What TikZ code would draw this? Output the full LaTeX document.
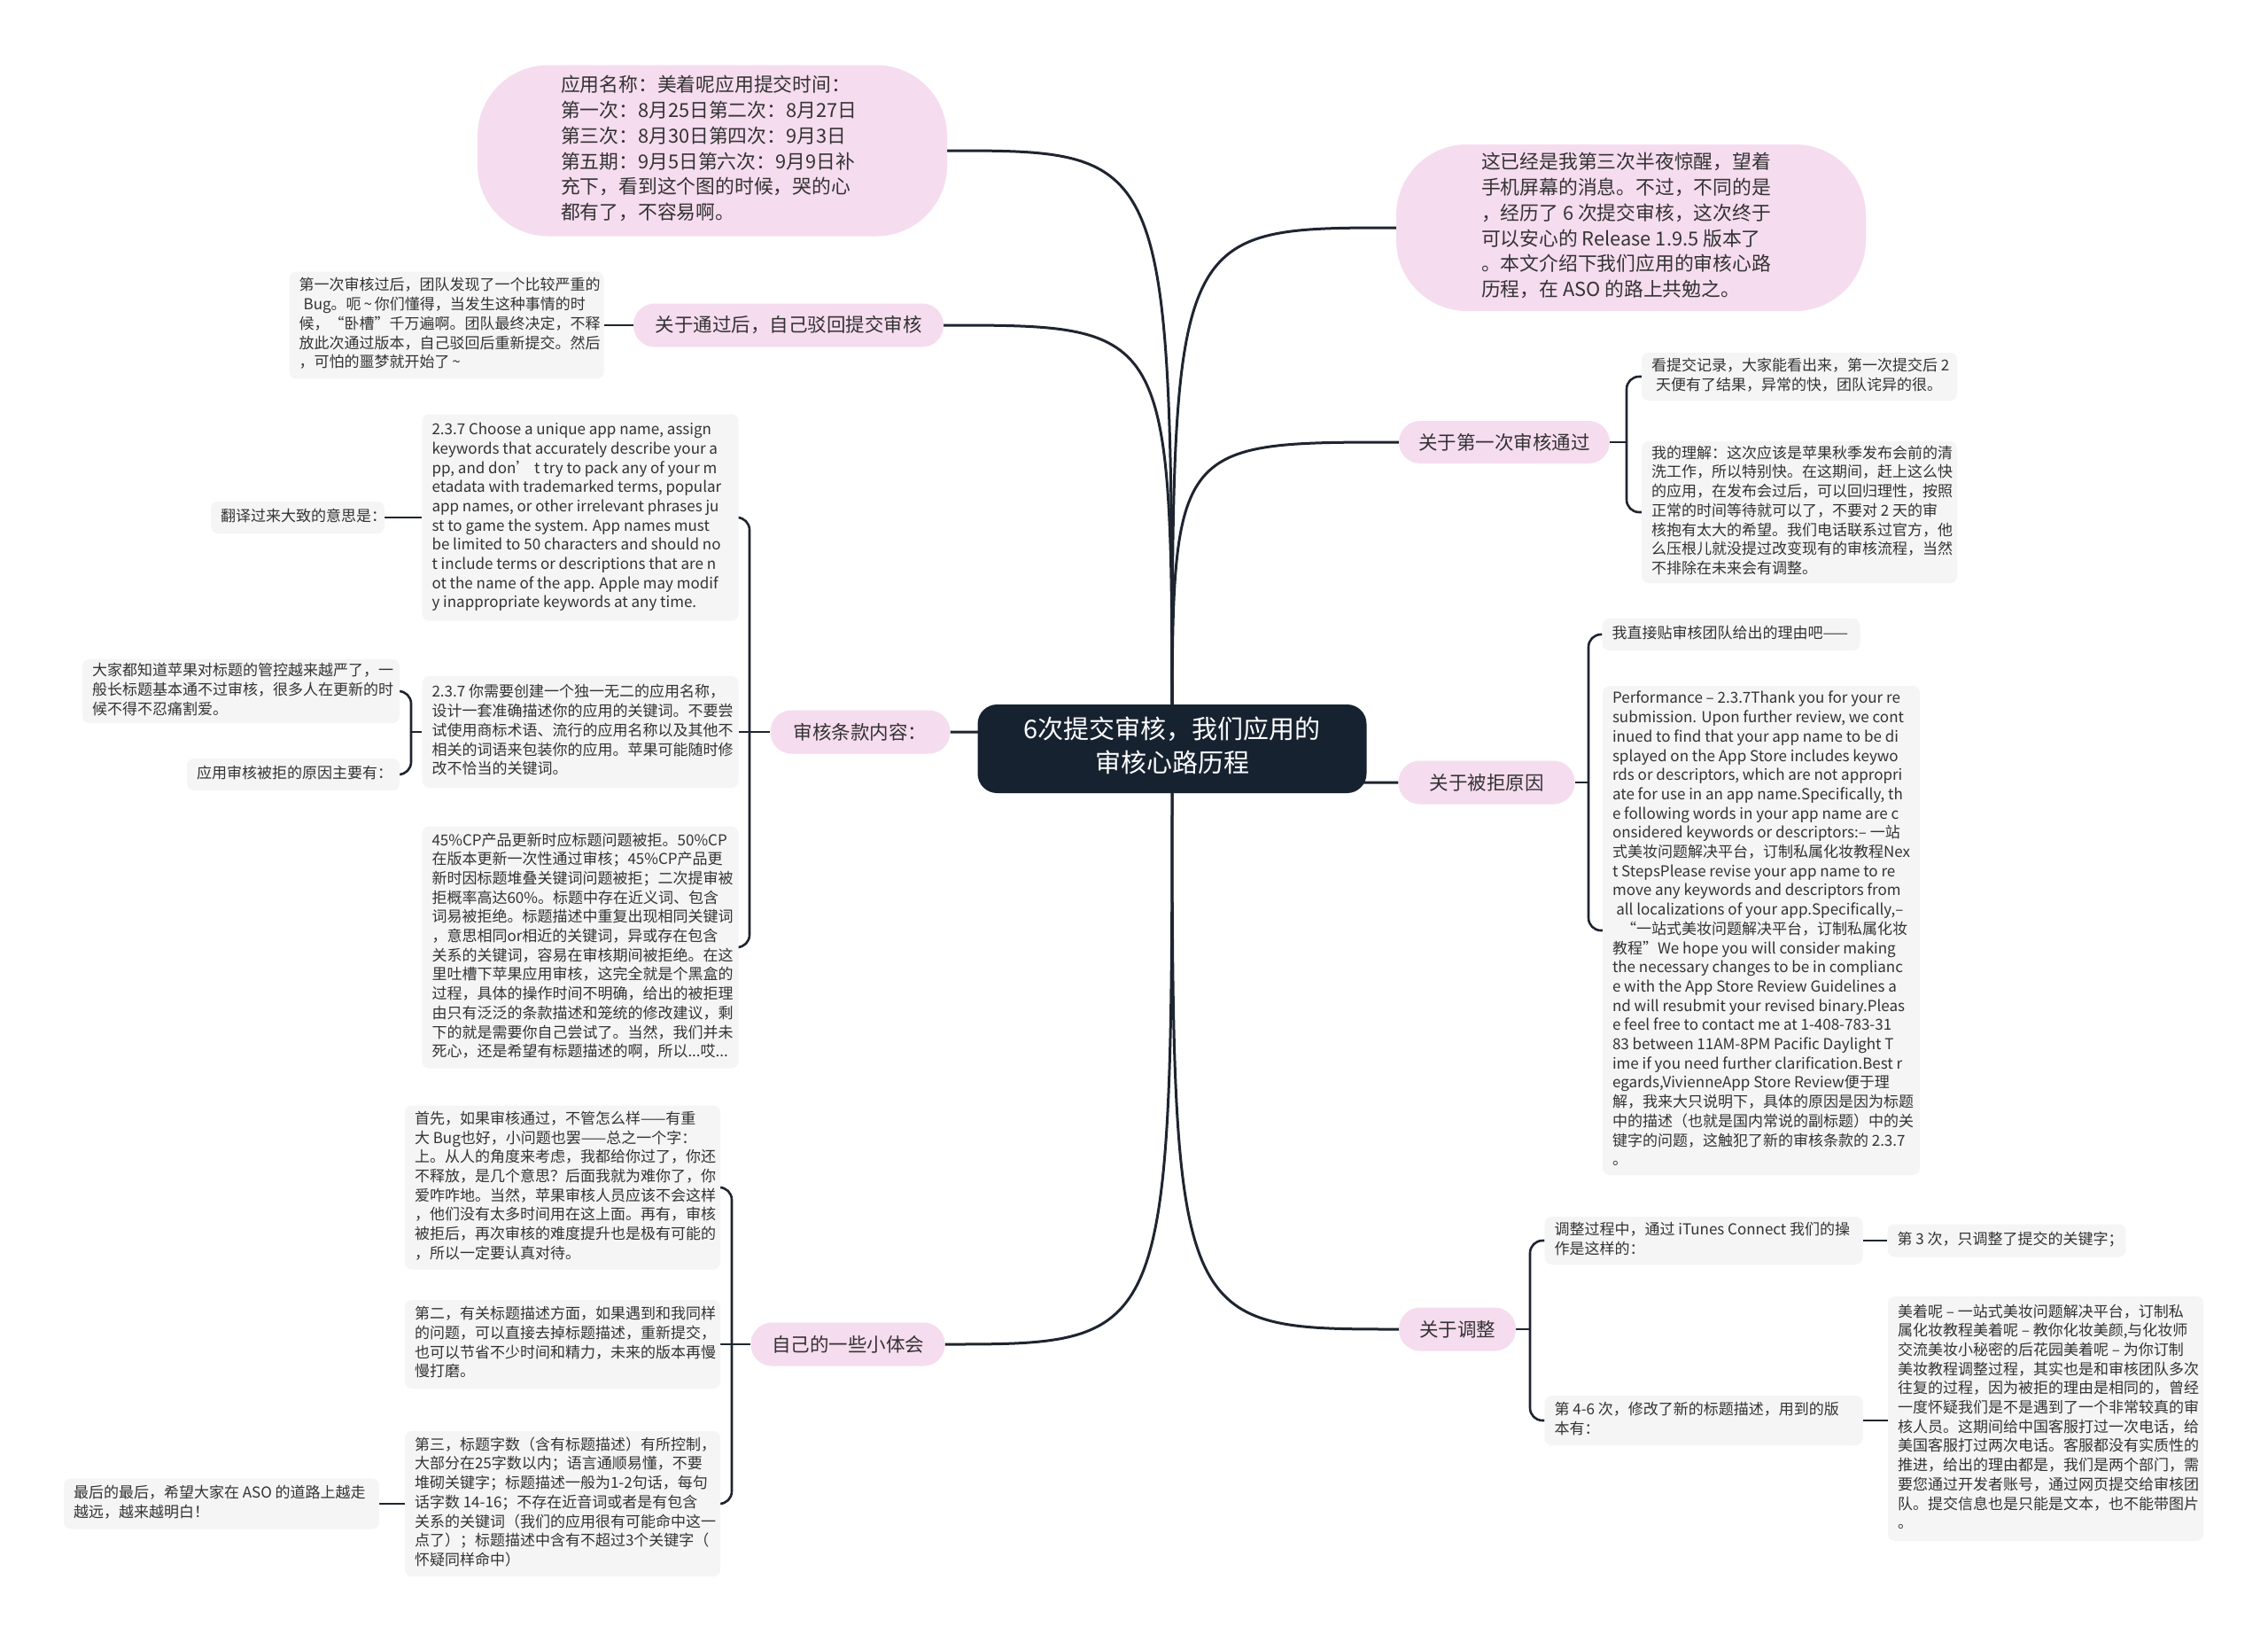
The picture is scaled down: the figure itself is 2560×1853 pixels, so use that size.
\documentclass[tikz,border=0pt]{standalone}
\usepackage{fontspec}
\setmainfont{Noto Sans CJK SC}
\usetikzlibrary{backgrounds}
\definecolor{pinkf}{HTML}{F6DCEF}
\definecolor{grayf}{HTML}{F5F5F5}
\definecolor{rootf}{HTML}{172231}
\definecolor{edgec}{HTML}{1E2530}
\definecolor{txt}{HTML}{333333}
\pgfdeclarelayer{edges}
\pgfsetlayers{background,edges,main}
\newcommand{\linesblock}[2]{\makebox[#1][l]{\begin{tabular}{@{}l@{}}#2\end{tabular}}}
\tikzset{
  gbox/.style={fill=grayf, rounded corners=8pt, inner xsep=11pt, inner ysep=0pt, text=txt, font=\fontsize{17}{21.7}\selectfont},
  pill/.style={fill=pinkf, rounded corners=24pt, inner sep=0pt, text=txt, font=\fontsize{21.5}{26}\selectfont},
  bigpill/.style={fill=pinkf, rounded corners=80pt, inner ysep=0pt, text=txt, font=\fontsize{21.8}{28.7}\selectfont},
  rootbox/.style={fill=rootf, rounded corners=22pt, text=white, font=\fontsize{29}{37.5}\selectfont, inner sep=0pt},
  redge/.style={draw=edgec, line width=3pt},
  cedge/.style={draw=edgec, line width=2.6pt, rounded corners=14pt},
}
\begin{document}
\begin{tikzpicture}[x=1pt, y=-1pt]
\begin{pgfonlayer}{background}
\fill[white] (0,0) rectangle (2560,1853);
\end{pgfonlayer}
\useasboundingbox (0,0) rectangle (2560,1853);

% root
\node[rootbox, minimum width=439pt, minimum height=100pt] (root) at (1323,845)
 {\begin{tabular}{@{}c@{}}6次提交审核，我们应用的\\审核心路历程\end{tabular}};

% top pills
\node[bigpill, minimum width=530pt, minimum height=193pt, inner xsep=94pt] (tl) at (804,170)
 {\linesblock{342pt}{应用名称：美着呢应用提交时间：\\第一次：8月25日第二次：8月27日\\第三次：8月30日第四次：9月3日\\第五期：9月5日第六次：9月9日补\\充下，看到这个图的时候，哭的心\\都有了，不容易啊。}};
\node[bigpill, minimum width=530pt, minimum height=188pt, inner xsep=96pt] (tr) at (1841,257)
 {\linesblock{338pt}{这已经是我第三次半夜惊醒，望着\\手机屏幕的消息。不过，不同的是\\，经历了 6 次提交审核，这次终于\\可以安心的 Release 1.9.5 版本了\\。本文介绍下我们应用的审核心路\\历程，在 ASO 的路上共勉之。}};

% branch 1
\node[pill, minimum width=350pt, minimum height=49pt] (p1) at (890,367) {关于通过后，自己驳回提交审核};
\node[gbox, minimum height=121pt] (p1c) at (504,367)
 {\linesblock{333pt}{第一次审核过后，团队发现了一个比较严重的\\\hspace*{0.3em}Bug。呃\,\textasciitilde\,你们懂得，当发生这种事情的时\\候，“卧槽”千万遍啊。团队最终决定，不释\\放此次通过版本，自己驳回后重新提交。然后\\，可怕的噩梦就开始了\,\textasciitilde}};

% branch 2
\node[pill, minimum width=238pt, minimum height=48pt] (p2) at (1698,499) {关于第一次审核通过};
\node[gbox, minimum height=54pt] (p2a) at (2031,425)
 {\linesblock{334pt}{看提交记录，大家能看出来，第一次提交后 2\\\hspace*{0.3em}天便有了结果，异常的快，团队诧异的很。}};
\node[gbox, minimum height=160pt] (p2b) at (2031,578)
 {\linesblock{334pt}{我的理解：这次应该是苹果秋季发布会前的清\\洗工作，所以特别快。在这期间，赶上这么快\\的应用，在发布会过后，可以回归理性，按照\\正常的时间等待就可以了，不要对 2 天的审\\核抱有太大的希望。我们电话联系过官方，他\\么压根儿就没提过改变现有的审核流程，当然\\不排除在未来会有调整。}};

% branch 3
\node[pill, minimum width=203pt, minimum height=49pt] (p3) at (971,826) {审核条款内容：};
\node[gbox, minimum height=233pt] (p3a) at (655,584)
 {\linesblock{335pt}{2.3.7 Choose a unique app name, assign\\keywords that accurately describe your a\\pp, and don’ t try to pack any of your m\\etadata with trademarked terms, popular\\app names, or other irrelevant phrases ju\\st to game the system. App names must\\be limited to 50 characters and should no\\t include terms or descriptions that are n\\ot the name of the app. Apple may modif\\y inappropriate keywords at any time.}};
\node[gbox, minimum height=36pt] (p3a1) at (336,584)
 {\linesblock{174pt}{翻译过来大致的意思是：}};
\node[gbox, minimum height=126pt] (p3b) at (655,826)
 {\linesblock{335pt}{2.3.7 你需要创建一个独一无二的应用名称，\\设计一套准确描述你的应用的关键词。不要尝\\试使用商标术语、流行的应用名称以及其他不\\相关的词语来包装你的应用。苹果可能随时修\\改不恰当的关键词。}};
\node[gbox, minimum height=72pt] (p3b1) at (272,780)
 {\linesblock{336pt}{大家都知道苹果对标题的管控越来越严了，一\\般长标题基本通不过审核，很多人在更新的时\\候不得不忍痛割爱。}};
\node[gbox, minimum height=36pt] (p3b2) at (331,874)
 {\linesblock{218pt}{应用审核被拒的原因主要有：}};
\node[gbox, minimum height=273pt] (p3c) at (655,1069)
 {\linesblock{335pt}{45\%CP产品更新时应标题问题被拒。50\%CP\\在版本更新一次性通过审核；45\%CP产品更\\新时因标题堆叠关键词问题被拒；二次提审被\\拒概率高达60\%。标题中存在近义词、包含\\词易被拒绝。标题描述中重复出现相同关键词\\，意思相同or相近的关键词，异或存在包含\\关系的关键词，容易在审核期间被拒绝。在这\\里吐槽下苹果应用审核，这完全就是个黑盒的\\过程，具体的操作时间不明确，给出的被拒理\\由只有泛泛的条款描述和笼统的修改建议，剩\\下的就是需要你自己尝试了。当然，我们并未\\死心，还是希望有标题描述的啊，所以...哎...}};

% branch 4
\node[pill, minimum width=199pt, minimum height=49pt] (p4) at (1678,883) {关于被拒原因};
\node[gbox, minimum height=36pt] (p4a) at (1954,716)
 {\linesblock{269pt}{我直接贴审核团队给出的理由吧——}};
\node[gbox, minimum height=552pt] (p4b) at (1988,1050)
 {\linesblock{336pt}{Performance – 2.3.7Thank you for your re\\submission. Upon further review, we cont\\inued to find that your app name to be di\\splayed on the App Store includes keywo\\rds or descriptors, which are not appropri\\ate for use in an app name.Specifically, th\\e following words in your app name are c\\onsidered keywords or descriptors:– 一站\\式美妆问题解决平台，订制私属化妆教程Nex\\t StepsPlease revise your app name to re\\move any keywords and descriptors from\\\hspace*{0.25em}all localizations of your app.Specifically,–\\\hspace*{0.6em}“一站式美妆问题解决平台，订制私属化妆\\教程”We hope you will consider making\\the necessary changes to be in complianc\\e with the App Store Review Guidelines a\\nd will resubmit your revised binary.Pleas\\e feel free to contact me at 1-408-783-31\\83 between 11AM-8PM Pacific Daylight T\\ime if you need further clarification.Best r\\egards,VivienneApp Store Review便于理\\解，我来大只说明下，具体的原因是因为标题\\中的描述（也就是国内常说的副标题）中的关\\键字的问题，这触犯了新的审核条款的 2.3.7\\。}};

% branch 5
\node[pill, minimum width=132pt, minimum height=49pt] (p5) at (1645,1500) {关于调整};
\node[gbox, minimum height=54pt] (p5a) at (1923,1400)
 {\linesblock{337pt}{调整过程中，通过 iTunes Connect 我们的操\\作是这样的：}};
\node[gbox, minimum height=37pt] (p5a1) at (2265,1400)
 {\linesblock{247pt}{第 3 次，只调整了提交的关键字；}};
\node[gbox, minimum height=56pt] (p5b) at (1923,1603)
 {\linesblock{337pt}{第 4-6 次，修改了新的标题描述，用到的版\\本有：}};
\node[gbox, minimum height=276pt] (p5b1) at (2309,1601)
 {\linesblock{334pt}{美着呢 – 一站式美妆问题解决平台，订制私\\属化妆教程美着呢 – 教你化妆美颜,与化妆师\\交流美妆小秘密的后花园美着呢 – 为你订制\\美妆教程调整过程，其实也是和审核团队多次\\往复的过程，因为被拒的理由是相同的，曾经\\一度怀疑我们是不是遇到了一个非常较真的审\\核人员。这期间给中国客服打过一次电话，给\\美国客服打过两次电话。客服都没有实质性的\\推进，给出的理由都是，我们是两个部门，需\\要您通过开发者账号，通过网页提交给审核团\\队。提交信息也是只能是文本，也不能带图片\\。}};

% branch 6
\node[pill, minimum width=219pt, minimum height=49pt] (p6) at (957,1517) {自己的一些小体会};
\node[gbox, minimum height=185pt] (p6a) at (635,1340)
 {\linesblock{334pt}{首先，如果审核通过，不管怎么样——有重\\大 Bug也好，小问题也罢——总之一个字：\\上。从人的角度来考虑，我都给你过了，你还\\不释放，是几个意思？后面我就为难你了，你\\爱咋咋地。当然，苹果审核人员应该不会这样\\，他们没有太多时间用在这上面。再有，审核\\被拒后，再次审核的难度提升也是极有可能的\\，所以一定要认真对待。}};
\node[gbox, minimum height=100pt] (p6b) at (635,1517)
 {\linesblock{334pt}{第二，有关标题描述方面，如果遇到和我同样\\的问题，可以直接去掉标题描述，重新提交，\\也可以节省不少时间和精力，未来的版本再慢\\慢打磨。}};
\node[gbox, minimum height=164pt] (p6c) at (635,1697)
 {\linesblock{334pt}{第三，标题字数（含有标题描述）有所控制，\\大部分在25字数以内；语言通顺易懂，不要\\堆砌关键字；标题描述一般为1-2句话，每句\\话字数 14-16；不存在近音词或者是有包含\\关系的关键词（我们的应用很有可能命中这一\\点了）；标题描述中含有不超过3个关键字（\\怀疑同样命中）}};
\node[gbox, minimum height=57pt] (p6c1) at (250,1697)
 {\linesblock{334pt}{最后的最后，希望大家在 ASO 的道路上越走\\越远，越来越明白！}};

% junction points
\coordinate (j2) at (1836,499);
\coordinate (j3) at (846,826);
\coordinate (jB) at (464,826);
\coordinate (j4) at (1793,883);
\coordinate (j5) at (1727,1500);
\coordinate (j6) at (826,1517);

\begin{pgfonlayer}{edges}
% root edges
\draw[redge] (root.center) .. controls (root.center |- tl.east) .. (tl.east);
\draw[redge] (root.center) .. controls (root.center |- tr.west) .. (tr.west);
\draw[redge] (root.center) .. controls (root.center |- p1.east) .. (p1.east);
\draw[redge] (root.center) .. controls (root.center |- p2.west) .. (p2.west);
\draw[redge] (root.center) .. controls (root.center |- p3.east) .. (p3.east);
\draw[redge] (root.center) .. controls (root.center |- p4.west) .. (p4.west);
\draw[redge] (root.center) .. controls (root.center |- p5.west) .. (p5.west);
\draw[redge] (root.center) .. controls (root.center |- p6.east) .. (p6.east);
% child edges
\draw[cedge] (p1.west) -- (p1c.east);
\draw[cedge] (p2.east) -- (j2);
\draw[cedge] (j2) |- (p2a.west);
\draw[cedge] (j2) |- (p2b.west);
\draw[cedge] (p3.west) -- (j3);
\draw[cedge] (j3) |- (p3a.east);
\draw[cedge] (j3) -- (p3b.east);
\draw[cedge] (j3) |- (p3c.east);
\draw[cedge] (p3a.west) -- (p3a1.east);
\draw[cedge] (p3b.west) -- (jB);
\draw[cedge] (jB) |- (p3b1.east);
\draw[cedge] (jB) |- (p3b2.east);
\draw[cedge] (p4.east) -- (j4);
\draw[cedge] (j4) |- (p4a.west);
\draw[cedge] (j4) |- (p4b.west);
\draw[cedge] (p5.east) -- (j5);
\draw[cedge] (j5) |- (p5a.west);
\draw[cedge] (j5) |- (p5b.west);
\draw[cedge] (p5a.east) -- (p5a1.west);
\draw[cedge] (p5b.east) -- (p5b.east -| p5b1.west);
\draw[cedge] (p6.west) -- (j6);
\draw[cedge] (j6) |- (p6a.east);
\draw[cedge] (j6) -- (p6b.east);
\draw[cedge] (j6) |- (p6c.east);
\draw[cedge] (p6c.west) -- (p6c1.east);
\end{pgfonlayer}
\end{tikzpicture}
\end{document}
